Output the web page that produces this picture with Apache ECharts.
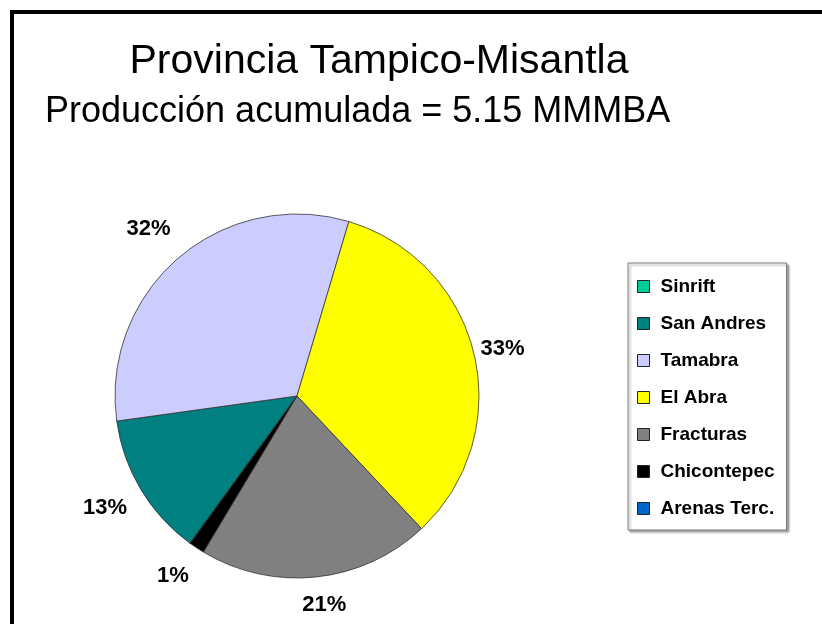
<!DOCTYPE html>
<html>
<head>
<meta charset="utf-8">
<script src="https://cdn.jsdelivr.net/npm/echarts@6/dist/echarts.min.js"></script>
<style>
html,body{margin:0;padding:0;background:#fff;}
#chart{width:822px;height:624px;}
</style>
</head>
<body>
<div id="chart"></div>
<script>
var titleText = 'Provincia Tampico-Misantla';
var subtitleText = 'Producción acumulada = 5.15 MMMBA';
var categories = ['Sinrift', 'San Andres', 'Tamabra', 'El Abra', 'Fracturas', 'Chicontepec', 'Arenas Terc.'];
var values = [0, 12.8, 31.8, 33.4, 20.6, 1.4, 0];
var colors = ['#00cc99', '#008080', '#ccccff', '#ffff00', '#808080', '#000000', '#0066cc'];
var labelGaps = [30, 36, 38, 24, 28, 34, 30];

var chart = echarts.init(document.getElementById('chart'), null, {renderer: 'canvas'});
var font = '"Liberation Sans", Arial, Helvetica, sans-serif';

chart.setOption({
  animation: false,
  backgroundColor: '#ffffff',
  color: colors,
  graphic: [
    {type: 'line', shape: {x1: 12, y1: 10, x2: 12, y2: 624}, style: {stroke: '#000', lineWidth: 4}},
    {type: 'line', shape: {x1: 10, y1: 12, x2: 822, y2: 12}, style: {stroke: '#000', lineWidth: 4}},
    {type: 'text', x: 379, y: 62, style: {text: titleText, font: '41px ' + font, fill: '#000', align: 'center', verticalAlign: 'middle'}},
    {type: 'text', x: 45, y: 112, style: {text: subtitleText, font: '36px ' + font, fill: '#000', align: 'left', verticalAlign: 'middle'}}
  ],
  legend: {
    orient: 'vertical',
    left: 628,
    top: 263,
    padding: [14, 12, 12, 9],
    itemGap: 18,
    itemWidth: 12,
    itemHeight: 12,
    icon: 'rect',
    borderColor: '#777',
    borderWidth: 1,
    backgroundColor: '#fff',
    shadowColor: 'rgba(0,0,0,0.35)',
    shadowBlur: 2,
    shadowOffsetX: 2,
    shadowOffsetY: 2,
    itemStyle: {borderColor: '#222', borderWidth: 1},
    textStyle: {fontFamily: font, fontWeight: 'bold', fontSize: 19, color: '#000', padding: [0, 0, 0, 6]},
    data: categories
  },
  series: [{
    type: 'pie',
    center: [297, 396],
    radius: 182,
    startAngle: 234,
    clockwise: true,
    avoidLabelOverlap: false,
    percentPrecision: 0,
    itemStyle: {borderColor: '#333', borderWidth: 0.8},
    label: {
      show: true,
      position: 'outside',
      fontFamily: font,
      fontWeight: 'bold',
      fontSize: 22,
      color: '#000',
      formatter: function (p) { return p.value > 0 ? p.percent + '%' : ''; }
    },
    labelLine: {show: false, length: 36, length2: 0},
    labelLayout: {align: 'center', verticalAlign: 'middle'},
    emphasis: {disabled: true},
    data: categories.map(function (c, i) {
      return {name: c, value: values[i], labelLine: {show: false, length: labelGaps[i], length2: 0}};
    })
  }]
});
</script>
</body>
</html>
